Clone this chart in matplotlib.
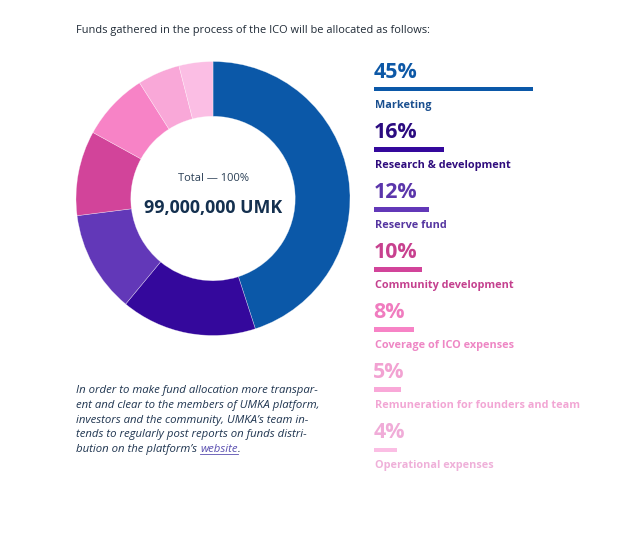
import matplotlib.pyplot as plt
import numpy as np

# allocation of ICO funds, percent
categories = ['Marketing', 'Research & development', 'Reserve fund',
              'Community development', 'Coverage of ICO expenses',
              'Remuneration for founders and team', 'Operational expenses']
shares = [45, 16, 12, 10, 8, 5, 4]
total_label = '99,000,000 UMK'

wedge_colors = ['#0b58a8', '#34089c', '#6238b8', '#d2449a', '#f783c6', '#f9a8d8', '#fbbee4']
pct_colors = ['#0d58a6', '#2b0b80', '#5b36ab', '#c8418f', '#f07cbf', '#f2a2d2', '#f0acd8']
lbl_colors = ['#1a4f8f', '#2f0c7d', '#5535a0', '#c4408e', '#ee86c4', '#f2a6d4', '#efb0d9']

plt.rcParams['font.family'] = ['Open Sans', 'DejaVu Sans']

W, H = 640, 558
fig = plt.figure(figsize=(W / 100, H / 100), dpi=100)
fig.patch.set_facecolor('white')


def fx(x):
    return x / W


def fy(y):
    return 1 - y / H


# donut, centre (213, 198.5), radius 137 px
cx, cy, r = 213, 198.5, 137
ax = fig.add_axes([fx(cx - r), fy(cy + r), 2 * r / W, 2 * r / H])
ax.pie(shares, colors=wedge_colors, startangle=90, counterclock=False,
       wedgeprops=dict(width=0.4, edgecolor=(1, 1, 1, 0.5), linewidth=0.4))
ax.set_xlim(-1, 1)
ax.set_ylim(-1, 1)
ax.set_aspect('equal')
ax.axis('off')

fig.text(fx(cx), fy(181.5), 'Total \u2014 100%', ha='center', va='baseline',
         fontsize=8, color='#2a3f55')
fig.text(fx(cx), fy(213), total_label, ha='center', va='baseline',
         fontsize=12.8, fontweight='bold', color='#14304f')

fig.text(fx(76), fy(32.7), 'Funds gathered in the process of the ICO will be allocated as follows:',
         ha='left', va='baseline', fontsize=7.9, color='#1f2a36')

# bars on the right, length on a power scale like the original
bx = fig.add_axes([fx(374), fy(480), 250 / W, 421 / H])
fwd = lambda x: np.sign(x) * np.abs(x) ** 0.8
inv = lambda x: np.sign(x) * np.abs(x) ** 1.25
bx.set_xscale('function', functions=(fwd, inv))
ypos = np.arange(len(shares))
bx.barh(ypos, shares, left=0, height=0.08, color=wedge_colors)
bx.set_xlim(0, (250 / 7.58) ** 1.25)
bx.set_ylim(len(shares) - 0.5, -0.5)
bx.axis('off')

px = 0.72  # points per pixel
for i, (cat, v) in enumerate(zip(categories, shares)):
    bx.annotate(f'{v}%', xy=(0, i), xytext=(-0.5, 11.5 * px), textcoords='offset points',
                ha='left', va='baseline', fontsize=15.4, fontweight='bold', color=pct_colors[i])
    bx.annotate(cat, xy=(0, i), xytext=(0.5, -18.5 * px), textcoords='offset points',
                ha='left', va='baseline', fontsize=7.8, fontweight='bold', color=lbl_colors[i])

# note under the donut
note = ['In order to make fund allocation more transpar-',
        'ent and clear to the members of UMKA platform,',
        'investors and the community, UMKA\u2019s team in-',
        'tends to regularly post reports on funds distri-',
        'bution on the platform\u2019s ']
for k, line in enumerate(note):
    t = fig.text(fx(76), fy(393.3 + 14.7 * k), line, ha='left', va='baseline',
                 fontsize=8.2, style='italic', color='#1f3550')
link = fig.text(0, 0, 'website', fontsize=8.2, style='italic', color='#5a4fb0',
                va='baseline', ha='left')
fig.canvas.draw()
bb = t.get_window_extent()
link.set_position((bb.x1 / W, fy(393.3 + 14.7 * 4)))
fig.canvas.draw()
lb = link.get_window_extent()
fig.text(lb.x1 / W, fy(393.3 + 14.7 * 4), '.', fontsize=8.2, style='italic',
         color='#1f3550', va='baseline', ha='left')
uy = fy(393.3 + 14.7 * 4 + 1.5)
fig.add_artist(plt.Line2D([lb.x0 / W, lb.x1 / W], [uy, uy], color='#5a4fb0', lw=0.6))

fig.savefig('out.png', dpi=100, facecolor='white')
